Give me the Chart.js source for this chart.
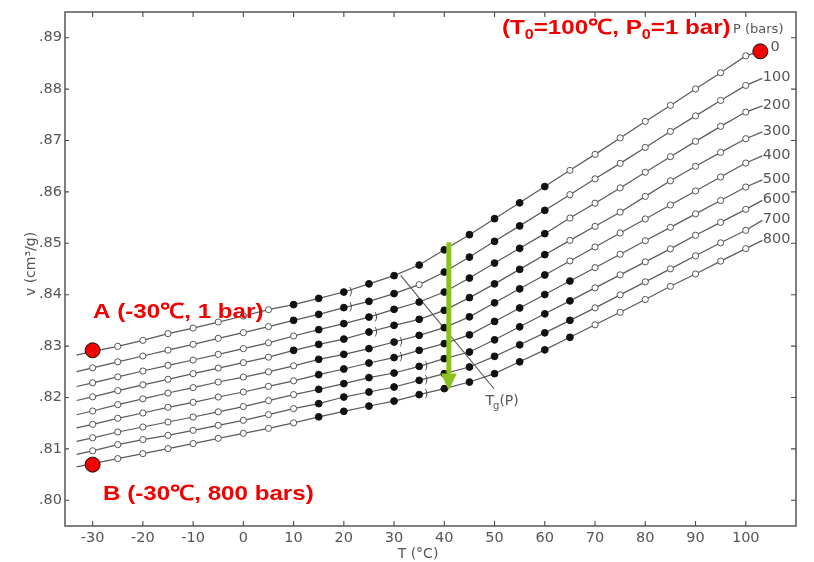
<!DOCTYPE html>
<html><head><meta charset="utf-8">
<script src="https://cdn.jsdelivr.net/npm/chart.js@4.4.1/dist/chart.umd.min.js"></script>
<style>html,body{margin:0;padding:0;background:#fff;}#wrap{width:814px;height:562px;}</style>
</head><body><div id="wrap"><canvas id="c" width="814" height="562"></canvas></div>
<script>
// ---------- data ----------
const temps = [-30,-25,-20,-15,-10,-5,0,5,10,15,20,25,30,35,40,45,50,55,60,65,70,75,80,85,90,95,100];
const pressures = [0,100,200,300,400,500,600,700,800];
const vP0   = [0.82898,0.82995,0.83112,0.83243,0.83351,0.83468,0.83585,0.83709,0.83807,0.83929,0.84052,0.84211,0.84371,0.84577,0.84873,0.85168,0.85479,0.85787,0.86104,0.86419,0.86730,0.87051,0.87372,0.87683,0.88004,0.88319,0.88646];
const vP100 = [0.82577,0.82694,0.82807,0.82922,0.83034,0.83151,0.83262,0.83379,0.83501,0.83618,0.83748,0.83871,0.84021,0.84196,0.84441,0.84732,0.85038,0.85339,0.85641,0.85946,0.86254,0.86555,0.86866,0.87177,0.87479,0.87780,0.88072];
const vP200 = [0.82286,0.82402,0.82515,0.82626,0.82729,0.82840,0.82951,0.83064,0.83196,0.83320,0.83437,0.83565,0.83715,0.83857,0.84052,0.84324,0.84616,0.84902,0.85188,0.85491,0.85781,0.86078,0.86382,0.86685,0.86983,0.87275,0.87553];
const vP300 = [0.82013,0.82134,0.82247,0.82354,0.82464,0.82573,0.82678,0.82785,0.82918,0.83034,0.83137,0.83274,0.83404,0.83521,0.83696,0.83943,0.84211,0.84493,0.84779,0.85057,0.85330,0.85606,0.85913,0.86215,0.86497,0.86769,0.87035];
const vP400 = [0.81737,0.81861,0.81974,0.82087,0.82192,0.82301,0.82398,0.82499,0.82616,0.82743,0.82840,0.82951,0.83079,0.83209,0.83359,0.83569,0.83842,0.84114,0.84384,0.84657,0.84929,0.85201,0.85474,0.85746,0.86018,0.86289,0.86561];
const vP500 = [0.81478,0.81595,0.81698,0.81809,0.81906,0.82009,0.82107,0.82217,0.82324,0.82445,0.82554,0.82671,0.82776,0.82918,0.83048,0.83219,0.83480,0.83742,0.84003,0.84266,0.84526,0.84787,0.85050,0.85310,0.85573,0.85833,0.86094];
const vP600 = [0.81216,0.81329,0.81426,0.81523,0.81620,0.81721,0.81823,0.81939,0.82056,0.82159,0.82270,0.82387,0.82476,0.82606,0.82756,0.82885,0.83122,0.83375,0.83628,0.83880,0.84133,0.84386,0.84639,0.84892,0.85155,0.85407,0.85660];
const vP700 = [0.80963,0.81083,0.81181,0.81264,0.81362,0.81459,0.81556,0.81667,0.81784,0.81881,0.82009,0.82107,0.82204,0.82334,0.82464,0.82593,0.82801,0.83025,0.83258,0.83501,0.83744,0.83997,0.84250,0.84503,0.84756,0.85009,0.85252];
const vP800 = [0.80714,0.80811,0.80908,0.81006,0.81103,0.81206,0.81303,0.81400,0.81507,0.81624,0.81731,0.81834,0.81931,0.82056,0.82173,0.82301,0.82464,0.82694,0.82927,0.83171,0.83414,0.83657,0.83906,0.84163,0.84404,0.84653,0.84896];
const isobars = [vP0,vP100,vP200,vP300,vP400,vP500,vP600,vP700,vP800];
// where each isobar's drawn line begins (left of -30 °C) and where its leader ends at the label
const lineStartT = -33.2;
const lineStartV = [0.82823,0.82504,0.82214,0.81941,0.81665,0.81408,0.81147,0.80895,0.80649];
const leaderEndT = [102.9,103.3,103.3,103.3,103.3,103.3,103.3,103.3,103.3];
const leaderEndV = [0.88734,0.88209,0.87674,0.87168,0.86701,0.86234,0.85835,0.85446,0.85057];
// filled (solid) markers range per isobar, plus single open exceptions
const filledFrom = [10,10,15,10,15,15,15,15,15];
const filledTo   = [60,60,60,60,60,65,65,65,65];
const openExceptions = [[1,35]];
// Tg(P) line
const tgLineT = [31.3, 49.9];
const tgLineV = [0.84377, 0.82170];
// ")" marks next to points
const tgMarkT = [20,20,25,25,30,30,35,35,35];
// green arrow (T, v from -> to)
const arrowT = 40.9;
const arrowV = [0.85020, 0.82135];
// red state points A, B, reference
const redT = [-30, -30, 102.9];
const redV = [0.82918, 0.80694, 0.88734];
const xTicks = [-30,-20,-10,0,10,20,30,40,50,60,70,80,90,100];
const yTicks = [0.80,0.81,0.82,0.83,0.84,0.85,0.86,0.87,0.88,0.89];

// ---------- chart ----------
const GRAY = '#4a4a4a';
const TFONT = '"DejaVu Sans", sans-serif';
function isFilled(i, T) {
  for (const e of openExceptions) if (e[0] === i && e[1] === T) return false;
  return T >= filledFrom[i] && T <= filledTo[i];
}
const datasets = [];
datasets.push({
  label: 'states', data: redT.map((t,k)=>({x:t,y:redV[k]})), showLine:false,
  pointRadius: 7.5, pointBackgroundColor: '#f20000', pointBorderColor: '#111', pointBorderWidth: 1
});
isobars.forEach((arr, i) => {
  const pts = [{x: lineStartT, y: lineStartV[i]}].concat(temps.map((t,k)=>({x:t, y:arr[k]})), [{x: leaderEndT[i], y: leaderEndV[i]}]);
  const inner = k => k > 0 && k < pts.length - 1;
  datasets.push({
    label: 'P=' + pressures[i], data: pts, showLine: true,
    borderColor: '#5a5a5a', borderWidth: 1.2,
    pointRadius: c => !inner(c.dataIndex) ? 0 : (isFilled(i, pts[c.dataIndex].x) ? 3.4 : 3.1),
    pointBackgroundColor: c => (inner(c.dataIndex) && isFilled(i, pts[c.dataIndex].x)) ? '#111' : '#fff',
    pointBorderColor: c => (inner(c.dataIndex) && isFilled(i, pts[c.dataIndex].x)) ? '#111' : '#555',
    pointBorderWidth: 1
  });
});
datasets.push({
  label: 'Tg(P)', data: tgLineT.map((t,k)=>({x:t,y:tgLineV[k]})), showLine:true,
  borderColor: '#555', borderWidth: 1.1, pointRadius: 0
});

function drawParts(ctx, parts, x, y, sx) {
  ctx.save();
  ctx.translate(x, y); ctx.scale(sx, 1);
  let px = 0;
  parts.forEach(([s, f, dy]) => { ctx.font = f; ctx.fillText(s, px, dy); px += ctx.measureText(s).width; });
  ctx.restore();
}

const decor = {
  id: 'decor',
  beforeDatasetsDraw(chart) {
    const {ctx, chartArea: a, scales: {x, y}} = chart;
    ctx.save();
    ctx.strokeStyle = GRAY; ctx.lineWidth = 1.4;
    ctx.strokeRect(a.left, a.top, a.right - a.left, a.bottom - a.top);
    ctx.lineWidth = 1.1;
    ctx.beginPath();
    xTicks.forEach(t => {
      const px = x.getPixelForValue(t);
      ctx.moveTo(px, a.bottom); ctx.lineTo(px, a.bottom - 5);
      ctx.moveTo(px, a.top); ctx.lineTo(px, a.top + 5);
    });
    yTicks.forEach(v => {
      const py = y.getPixelForValue(v);
      ctx.moveTo(a.left, py); ctx.lineTo(a.left + 4, py);
      ctx.moveTo(a.right, py); ctx.lineTo(a.right - 5, py);
    });
    ctx.stroke();
    // pressure labels
    ctx.fillStyle = '#555';
    ctx.font = '14.5px ' + TFONT;
    ctx.textAlign = 'left'; ctx.textBaseline = 'middle';
    pressures.forEach((p, i) => {
      if (i === 0) {
        ctx.fillText('0', x.getPixelForValue(104.9), y.getPixelForValue(0.88817));
      } else {
        ctx.fillText(String(p), x.getPixelForValue(leaderEndT[i]) + 0.5, y.getPixelForValue(leaderEndV[i]) - 1);
      }
    });
    ctx.font = '13px ' + TFONT;
    ctx.fillText('P (bars)', 733, 30);
    ctx.restore();
  },
  afterDatasetsDraw(chart) {
    const {ctx, scales: {x, y}} = chart;
    ctx.save();
    // small ")" marks
    ctx.fillStyle = '#444'; ctx.font = '10px ' + TFONT;
    ctx.textAlign = 'left'; ctx.textBaseline = 'middle';
    tgMarkT.forEach((t, i) => {
      const k = temps.indexOf(t);
      ctx.fillText(')', x.getPixelForValue(t) + 5, y.getPixelForValue(isobars[i][k]));
    });
    // Tg(P) label
    ctx.fillStyle = '#555';
    const lx = x.getPixelForValue(48.2), ly = y.getPixelForValue(0.8186);
    ctx.textBaseline = 'alphabetic';
    ctx.font = '14px ' + TFONT;
    ctx.fillText('T', lx, ly);
    let w = ctx.measureText('T').width;
    ctx.font = '10px ' + TFONT;
    ctx.fillText('g', lx + w - 1, ly + 4);
    w += ctx.measureText('g').width - 1;
    ctx.font = '14px ' + TFONT;
    ctx.fillText('(P)', lx + w, ly);
    // green arrow
    const ax = x.getPixelForValue(arrowT);
    const ay0 = y.getPixelForValue(arrowV[0]), ay1 = y.getPixelForValue(arrowV[1]);
    ctx.fillStyle = '#8cc21e';
    ctx.fillRect(ax - 2.5, ay0, 5, (ay1 - 17) - ay0);
    ctx.beginPath();
    ctx.moveTo(ax - 8, ay1 - 17); ctx.lineTo(ax + 8, ay1 - 17); ctx.lineTo(ax, ay1); ctx.closePath();
    ctx.fill();
    ctx.restore();
  },
  afterDraw(chart) {
    const {ctx} = chart;
    ctx.save();
    ctx.fillStyle = '#f20000';
    ctx.textBaseline = 'alphabetic'; ctx.textAlign = 'left';
    const big = 'bold 21px "Liberation Sans", Arial, sans-serif';
    const sub = 'bold 14px "Liberation Sans", Arial, sans-serif';
    const SX = 1.15;
    drawParts(ctx, [['A (-30℃, 1 bar)', big, 0]], 93, 318, SX);
    drawParts(ctx, [['B (-30℃, 800 bars)', big, 0]], 103, 500, SX);
    drawParts(ctx, [['(T', big, 0], ['0', sub, 5], ['=100℃, P', big, 0], ['0', sub, 5], ['=1 bar)', big, 0]], 502, 34, SX);
    // axis titles
    ctx.fillStyle = '#555';
    ctx.font = '14px ' + TFONT;
    ctx.textAlign = 'center'; ctx.textBaseline = 'middle';
    ctx.fillText('T (°C)', 418, 554);
    ctx.translate(31, 264); ctx.rotate(-Math.PI/2);
    ctx.fillText('v (cm³/g)', 0, 0);
    ctx.restore();
  }
};

new Chart(document.getElementById('c'), {
  type: 'scatter',
  data: { datasets },
  options: {
    responsive: false, animation: false, devicePixelRatio: 1,
    layout: { padding: { left: 0, top: 12, right: 18, bottom: 0 } },
    plugins: { legend: { display: false }, tooltip: { enabled: false } },
    scales: {
      x: {
        type: 'linear', min: -35.5, max: 110,
        afterBuildTicks: s => { s.ticks = xTicks.map(v => ({value: v})); },
        afterFit: s => { s.height = 36; },
        grid: { display: false, drawTicks: false }, border: { display: false },
        ticks: { padding: 4, color: '#555', font: { family: 'DejaVu Sans', size: 14.5 }, maxRotation: 0, autoSkip: false, callback: v => String(v) }
      },
      y: {
        type: 'linear', min: 0.795, max: 0.895,
        afterBuildTicks: s => { s.ticks = yTicks.map(v => ({value: v})); },
        afterFit: s => { s.width = 65; },
        grid: { display: false, drawTicks: false }, border: { display: false },
        ticks: { padding: 3, color: '#555', font: { family: 'DejaVu Sans', size: 14.5 }, autoSkip: false, callback: v => v.toFixed(2).replace(/^0/, '') }
      }
    }
  },
  plugins: [decor]
});
</script></body></html>
